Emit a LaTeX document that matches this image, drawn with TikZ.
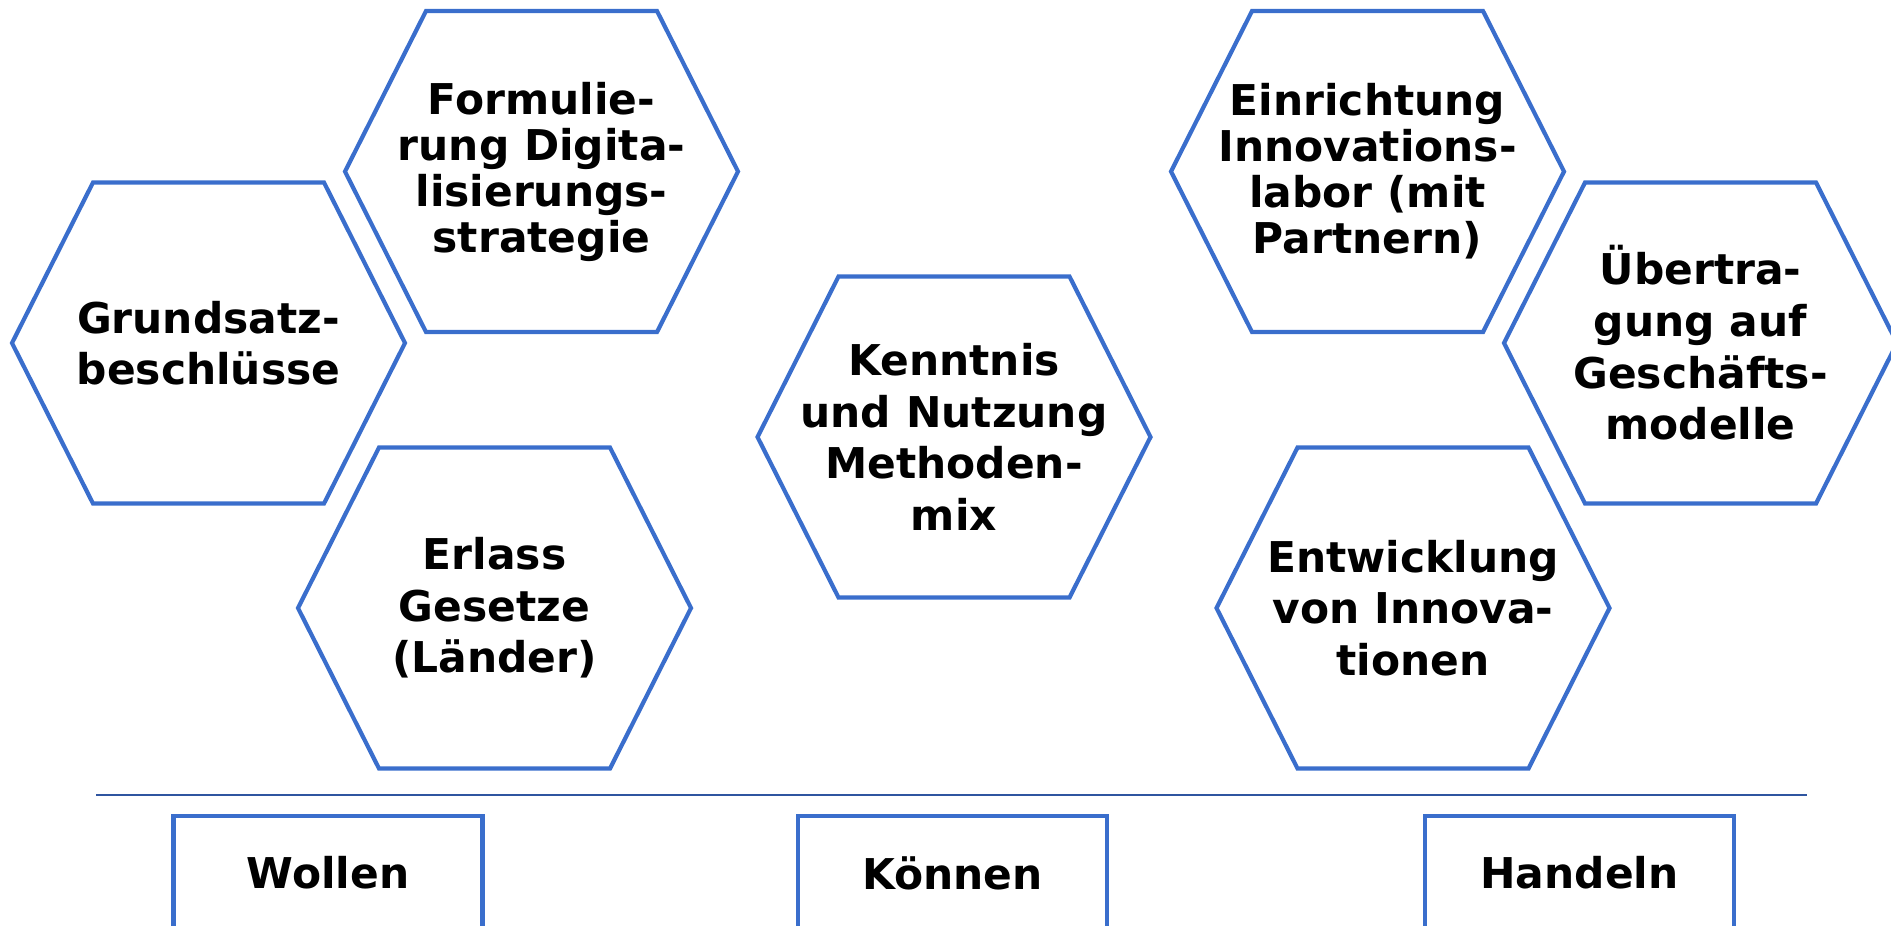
\documentclass[tikz,border=0pt]{standalone}
\usepackage{fontspec}
\setmainfont{DejaVu Sans}
\usepackage{tikz}
\usetikzlibrary{calc}
\definecolor{hexblue}{RGB}{58,110,204}
\definecolor{ruleblue}{RGB}{47,85,160}
% hexagon: extra options, name, centre, text
\newcommand{\hexcell}[4][]{%
  \node[hextext,#1] (#2) at (#3) {#4};
  \draw[hexline] ($(#2)+(-196.5,0)$) -- ($(#2)+(-115.5,-160.5)$) -- ($(#2)+(115.5,-160.5)$)
    -- ($(#2)+(196.5,0)$) -- ($(#2)+(115.5,160.5)$) -- ($(#2)+(-115.5,160.5)$) -- cycle;
}
\begin{document}
\begin{tikzpicture}[x=0.25pt,y=-0.25pt,
    hextext/.style={align=center,inner sep=0pt,font=\bfseries\fontsize{10.6}{12.9}\selectfont},
    tight/.style={font=\bfseries\fontsize{10.6}{11.5}\selectfont},
    hexline/.style={draw=hexblue,line width=1.05pt,line join=miter},
    tagbox/.style={draw=hexblue,line width=1.05pt,minimum width=77.25pt,minimum height=28.5pt,
      inner sep=0pt,font=\bfseries\fontsize{10.6}{11.5}\selectfont}]

    \useasboundingbox (0,0) rectangle (1891,925);

    % Wollen
    \hexcell{grund}{208.5,343}{Grundsatz-\\beschlüsse}
    \hexcell[tight]{formul}{541.5,171.5}{Formulie-\\rung Digita-\\lisierungs-\\strategie}
    \hexcell{erlass}{494.5,608}{Erlass\\Gesetze\\(Länder)}

    % Koennen
    \hexcell{kennt}{954,437}{Kenntnis\\und Nutzung\\Methoden-\\mix}

    % Handeln
    \hexcell[tight]{einr}{1367.5,171.5}{Einrichtung\\Innovations-\\labor (mit\\Partnern)}
    \hexcell{uebert}{1700.5,343}{Übertra-\\gung auf\\Geschäfts-\\modelle}
    \hexcell{entw}{1413,608}{Entwicklung\\von Innova-\\tionen}

    % divider
    \coordinate (ruleL) at (96,795);
    \coordinate (ruleR) at (1807,795);
    \draw[ruleblue,line width=0.5pt] (ruleL) -- (ruleR);

    \node[tagbox] (wollen) at (328,873) {Wollen};
    \node[tagbox] (koennen) at (952.5,873) {Können};
    \node[tagbox] (handeln) at (1579.5,873) {Handeln};

\end{tikzpicture}
\end{document}
